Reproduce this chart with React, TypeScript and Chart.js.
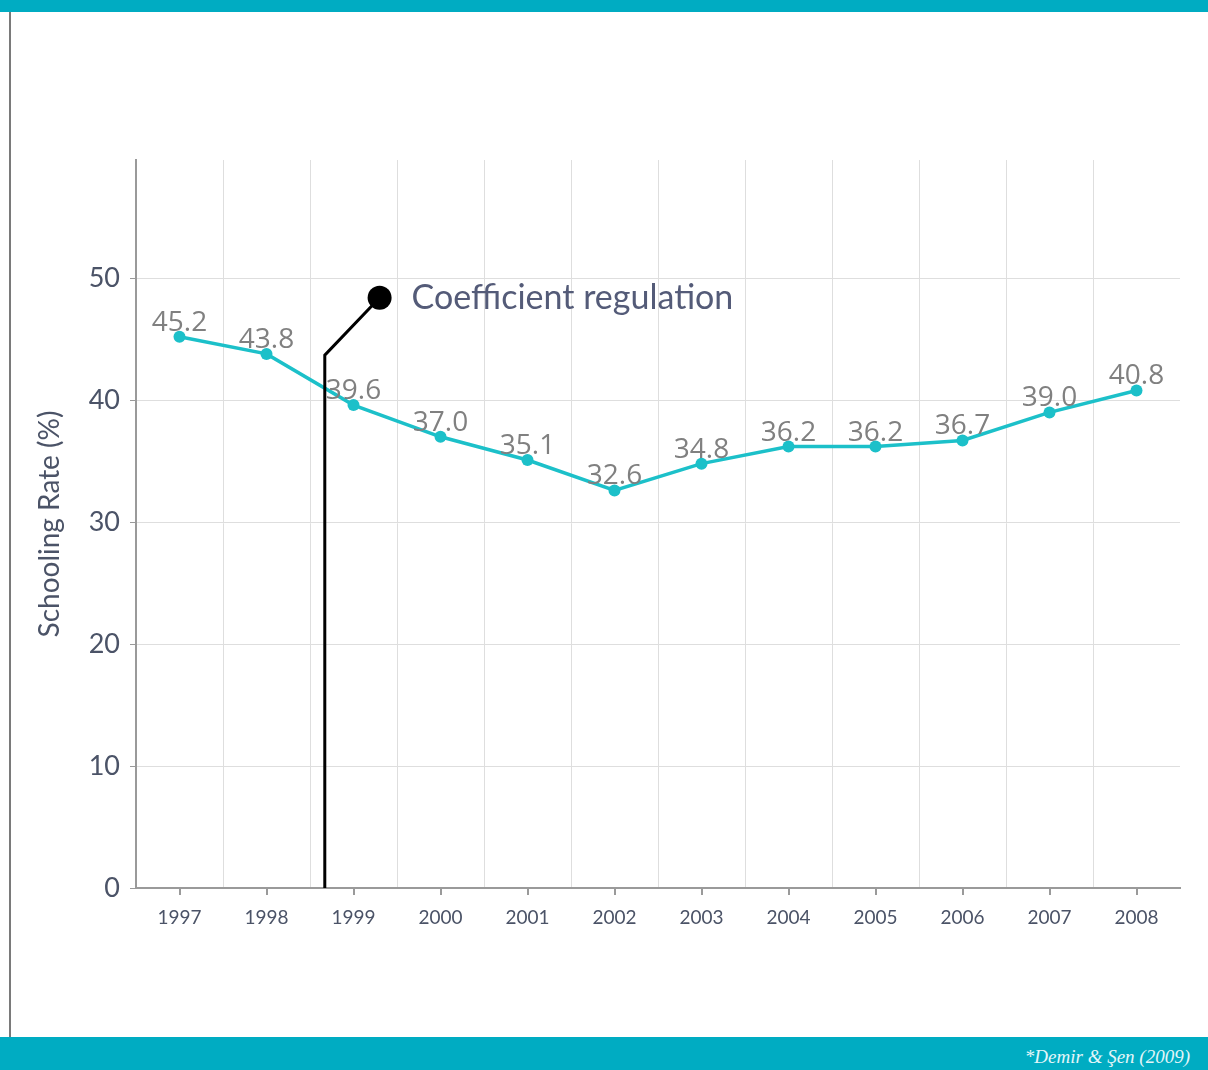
import React, { useEffect, useRef } from "react";
import { Chart, registerables } from "chart.js";

Chart.register(...registerables);

// Schooling rate by year
const years = ["1997", "1998", "1999", "2000", "2001", "2002", "2003", "2004", "2005", "2006", "2007", "2008"];
const schoolingRate = [45.2, 43.8, 39.6, 37.0, 35.1, 32.6, 34.8, 36.2, 36.2, 36.7, 39.0, 40.8];
const yTickValues = [0, 10, 20, 30, 40, 50];

// Callout for the coefficient regulation (category index / value coordinates)
const regulationLabel = "Coefficient regulation";
const regulationX = 1.67;
const regulationElbowY = 43.7;
const regulationMarkerX = 2.3;
const regulationMarkerY = 48.4;

const sourceNote = "*Demir & Şen (2009)";

const TEAL = "#00acc2";
const LINE = "#1cc0c9";
const AXIS_TEXT = "#4b5367";
const GRID = "#dedede";
const AXIS_LINE = "#9a9a9a";

const tickMarksPlugin = {
  id: "tickMarks",
  afterDraw(chart: any) {
    const x = chart.scales.x;
    const ctx = chart.ctx;
    const bottom = chart.chartArea.bottom;
    ctx.save();
    ctx.strokeStyle = AXIS_LINE;
    ctx.lineWidth = 2;
    years.forEach((_, i) => {
      const px = Math.round(x.getPixelForValue(i));
      ctx.beginPath();
      ctx.moveTo(px, bottom);
      ctx.lineTo(px, bottom + 7);
      ctx.stroke();
    });
    ctx.restore();
  },
};

const calloutPlugin = {
  id: "callout",
  afterDatasetsDraw(chart: any) {
    const { x, y } = chart.scales;
    const ctx = chart.ctx;
    const x0 = x.getPixelForValue(regulationX);
    const y0 = y.getPixelForValue(0);
    const yElbow = y.getPixelForValue(regulationElbowY);
    const mx = x.getPixelForValue(regulationMarkerX);
    const my = y.getPixelForValue(regulationMarkerY);
    ctx.save();
    ctx.strokeStyle = "#000";
    ctx.lineWidth = 3;
    ctx.lineJoin = "miter";
    ctx.beginPath();
    ctx.moveTo(x0, y0);
    ctx.lineTo(x0, yElbow);
    ctx.lineTo(mx, my);
    ctx.stroke();
    ctx.fillStyle = "#000";
    ctx.beginPath();
    ctx.arc(mx, my, 12, 0, Math.PI * 2);
    ctx.fill();
    ctx.fillStyle = "#545b78";
    ctx.font = "34px Lato";
    ctx.textAlign = "left";
    ctx.textBaseline = "middle";
    ctx.fillText(regulationLabel, mx + 32, my);
    ctx.restore();
  },
};

const valueLabelsPlugin = {
  id: "valueLabels",
  afterDatasetsDraw(chart: any) {
    const meta = chart.getDatasetMeta(0);
    const ctx = chart.ctx;
    ctx.save();
    ctx.fillStyle = "#808080";
    ctx.font = "28px 'Open Sans'";
    ctx.textAlign = "center";
    ctx.textBaseline = "alphabetic";
    meta.data.forEach((pt: any, i: number) => {
      ctx.fillText(schoolingRate[i].toFixed(1), pt.x, pt.y - 6);
    });
    ctx.restore();
  },
};

function SchoolingChart() {
  const canvasRef = useRef<HTMLCanvasElement | null>(null);

  useEffect(() => {
    if (!canvasRef.current) return;
    const chart = new Chart(canvasRef.current, {
      type: "line",
      data: {
        labels: years,
        datasets: [
          {
            data: schoolingRate,
            borderColor: LINE,
            backgroundColor: LINE,
            borderWidth: 3.5,
            pointRadius: 6,
            pointBorderWidth: 0,
            pointBackgroundColor: LINE,
            tension: 0,
          },
        ],
      },
      options: {
        responsive: false,
        animation: false,
        devicePixelRatio: 1,
        layout: { padding: { left: 0, right: 28, top: 160, bottom: 0 } },
        plugins: {
          legend: { display: false },
          tooltip: { enabled: false },
        },
        scales: {
          x: {
            offset: true,
            grid: {
              offset: true,
              drawTicks: false,
              color: (c: any) => (c.index === undefined ? "transparent" : GRID),
            },
            border: { color: AXIS_LINE, width: 2 },
            ticks: {
              color: AXIS_TEXT,
              font: { family: "Lato", size: 19 },
              padding: 18,
              maxRotation: 0,
            },
            afterFit: (s: any) => {
              s.height = 149;
            },
          },
          y: {
            min: 0,
            max: 59.7,
            afterBuildTicks: (s: any) => {
              s.ticks = yTickValues.map((v) => ({ value: v }));
            },
            grid: {
              color: GRID,
              tickLength: 6,
              tickColor: AXIS_LINE,
            },
            border: { color: AXIS_LINE, width: 2 },
            ticks: {
              color: AXIS_TEXT,
              font: { family: "Lato", size: 27 },
              padding: 10,
            },
            title: {
              display: true,
              text: "Schooling Rate (%)",
              color: AXIS_TEXT,
              font: { family: "Lato", size: 28, lineHeight: 1 },
              padding: { top: 36, bottom: 0 },
            },
            afterFit: (s: any) => {
              s.width = 136;
            },
          },
        },
      },
      plugins: [tickMarksPlugin, calloutPlugin, valueLabelsPlugin],
    });
    return () => chart.destroy();
  }, []);

  return <canvas ref={canvasRef} width={1208} height={1037} style={{ display: "block" }} />;
}

export default function App() {
  return (
    <div
      style={{
        position: "absolute",
        left: 0,
        top: 0,
        width: 1208,
        height: 1070,
        background: "#fff",
        overflow: "hidden",
      }}
    >
      <div style={{ position: "absolute", left: 0, top: 0, width: 1208, height: 1037 }}>
        <SchoolingChart />
      </div>
      <div style={{ position: "absolute", left: 0, top: 0, width: 1208, height: 12, background: TEAL }} />
      <div style={{ position: "absolute", left: 9, top: 12, width: 2, height: 1025, background: "#7a7a7a" }} />
      <div
        style={{
          position: "absolute",
          left: 0,
          top: 1037,
          width: 1208,
          height: 33,
          background: TEAL,
          boxSizing: "border-box",
          paddingRight: 18,
          textAlign: "right",
          lineHeight: "40px",
          overflow: "hidden",
          color: "#e4f6f9",
          fontFamily: "'Liberation Serif', 'DejaVu Serif', serif",
          fontStyle: "italic",
          fontSize: 19,
        }}
      >
        {sourceNote}
      </div>
    </div>
  );
}
